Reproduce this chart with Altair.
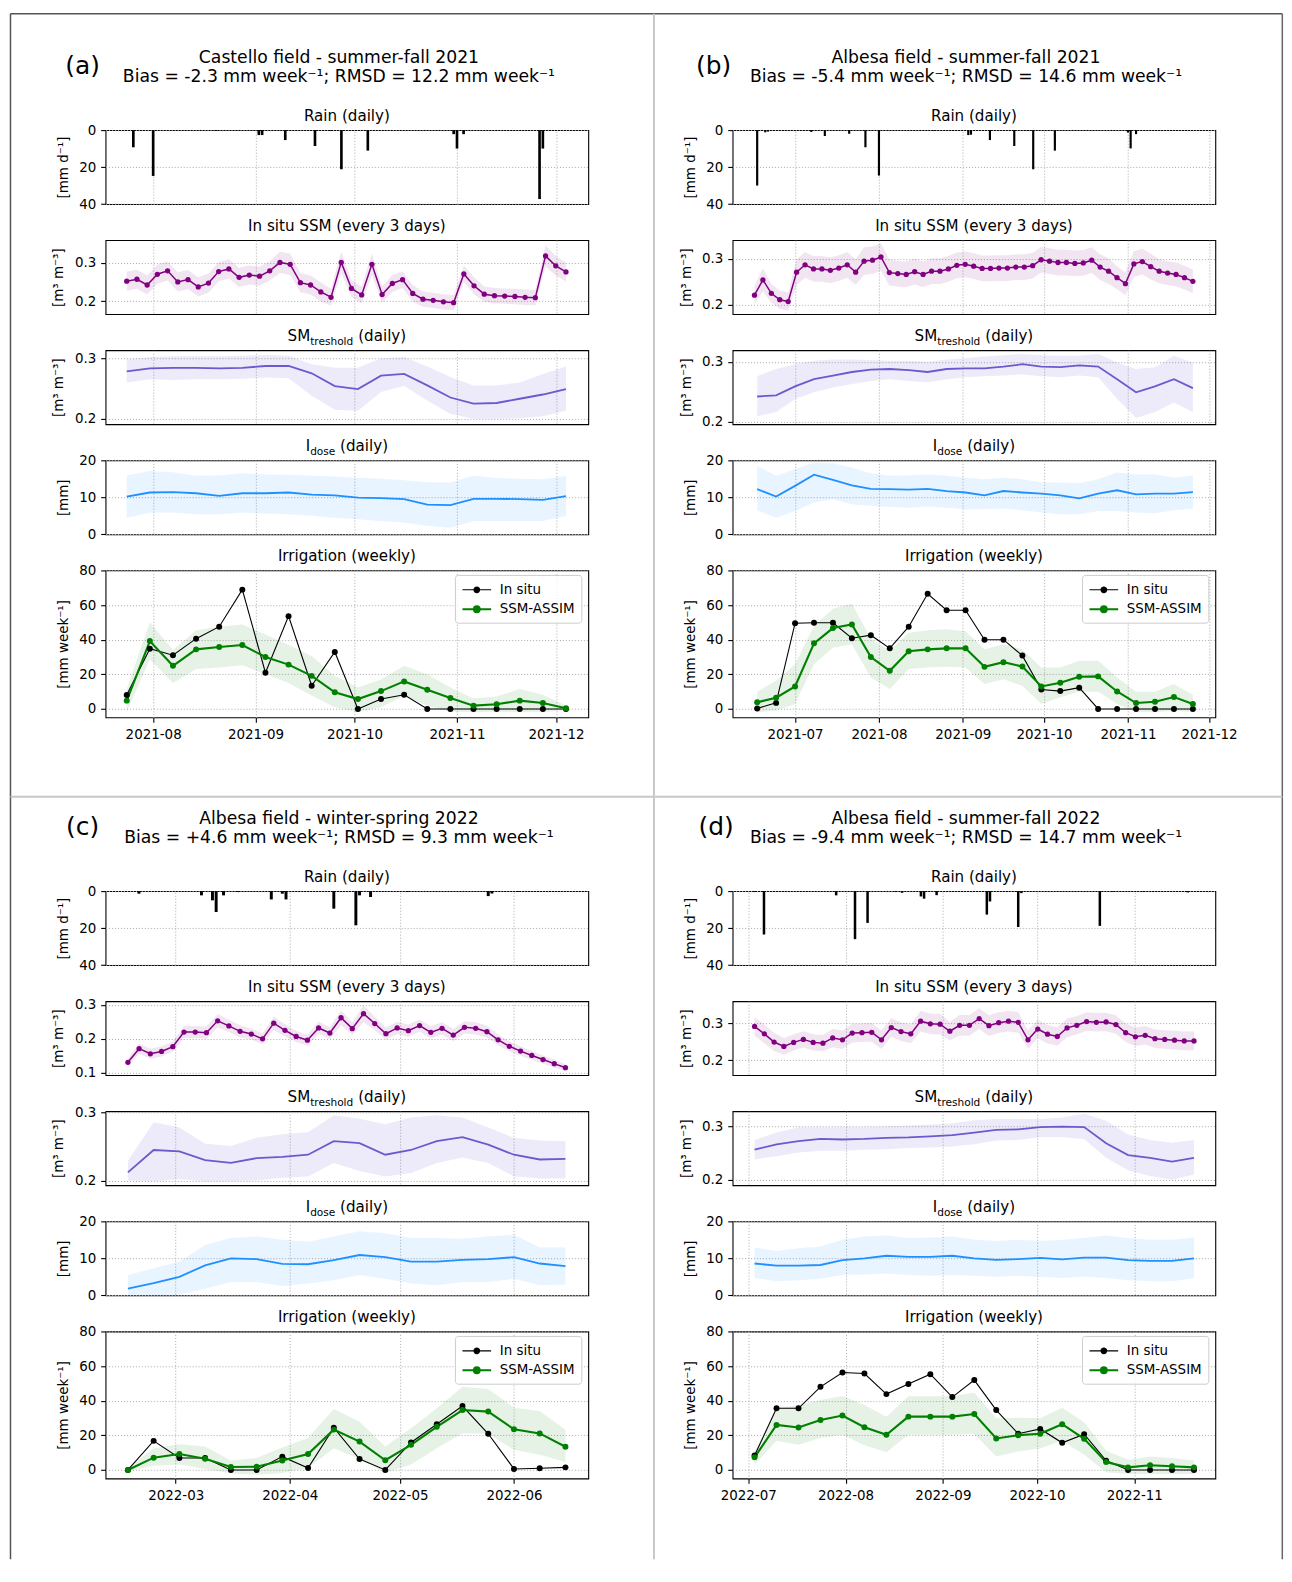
import altair as alt
import pandas as pd

FONT = "DejaVu Sans"
W = 485
H = 74.3
H_IRR = 147.7
VGAP = 35.6
HGAP = 145
ROWGAP = 174.2
SPACER_H = ROWGAP - 2 * VGAP

PURPLE = "#800080"
SLATE = "#6a5acd"
DODGER = "#1e90ff"
GREEN = "#008000"

# ---------------- Panel (a) ----------------
A_TITLE = "Castello field - summer-fall 2021"
A_STATS = "Bias = -2.3 mm week\u207b\u00b9; RMSD = 12.2 mm week\u207b\u00b9"
A_XDOM = ["2021-07-17 14:00", "2021-12-10 18:00"]
A_MONTHS = ["2021-08-01", "2021-09-01", "2021-10-01", "2021-11-01", "2021-12-01"]
A_RAIN_DATES = ["2021-07-26", "2021-08-01", "2021-08-20", "2021-09-02", "2021-09-03", "2021-09-10",
                "2021-09-19", "2021-09-24", "2021-09-27", "2021-10-05", "2021-10-31", "2021-11-01",
                "2021-11-03", "2021-11-26", "2021-11-27"]
A_RAIN_MM = [9.3, 24.8, 0.5, 2.7, 2.7, 5.4, 8.6, 0.5, 21.2, 11.1, 2.2, 10.0, 2.2, 37.3, 10.0]
A_SSM_START, A_SSM_END = "2021-07-24", "2021-12-04"
A_SSM = [0.252, 0.257, 0.242, 0.270, 0.279, 0.250, 0.256, 0.237, 0.247, 0.277, 0.284, 0.262, 0.268,
         0.265, 0.279, 0.301, 0.296, 0.248, 0.242, 0.224, 0.210, 0.301, 0.233, 0.216, 0.296, 0.217,
         0.246, 0.256, 0.220, 0.205, 0.202, 0.198, 0.196, 0.271, 0.240, 0.218, 0.214, 0.213, 0.212,
         0.210, 0.209, 0.318, 0.292, 0.276]
A_SSM_SPREAD = [0.025, 0.025, 0.025, 0.025, 0.025, 0.025, 0.025, 0.025, 0.025, 0.025, 0.025, 0.025,
                0.025, 0.025, 0.025, 0.028, 0.028, 0.025, 0.025, 0.025, 0.022, 0.028, 0.022, 0.022,
                0.028, 0.022, 0.022, 0.022, 0.022, 0.020, 0.020, 0.020, 0.020, 0.022, 0.022, 0.020,
                0.020, 0.020, 0.020, 0.020, 0.020, 0.028, 0.025, 0.025]
A_WEEK_START = "2021-07-24"
A_SMT = [0.278, 0.283, 0.284, 0.284, 0.283, 0.284, 0.287, 0.287, 0.275, 0.254, 0.249, 0.271, 0.274,
         0.255, 0.235, 0.225, 0.226, 0.233, 0.240, 0.249]
A_SMT_HI = [0.298, 0.302, 0.303, 0.303, 0.303, 0.304, 0.305, 0.304, 0.290, 0.284, 0.284, 0.300, 0.302,
            0.286, 0.269, 0.255, 0.255, 0.260, 0.274, 0.286]
A_SMT_LO = [0.260, 0.265, 0.264, 0.265, 0.265, 0.266, 0.268, 0.267, 0.238, 0.215, 0.213, 0.244, 0.254,
            0.230, 0.208, 0.200, 0.200, 0.201, 0.204, 0.213]
A_IDOSE = [10.2, 11.3, 11.4, 11.1, 10.4, 11.1, 11.1, 11.3, 10.7, 10.5, 9.9, 9.8, 9.5, 8.0, 7.9, 9.6,
           9.6, 9.5, 9.3, 10.3]
A_IDOSE_HI = [15.9, 17.1, 16.8, 15.8, 15.9, 16.5, 16.2, 16.1, 15.8, 15.6, 15.3, 15.0, 14.6, 14.1, 14.0,
              15.8, 15.2, 15.0, 14.9, 15.8]
A_IDOSE_LO = [4.5, 5.9, 5.9, 5.4, 5.4, 5.9, 5.6, 5.4, 5.0, 4.5, 4.1, 3.6, 3.2, 2.3, 1.8, 3.6, 3.6, 3.6,
              3.6, 5.0]
A_IRR_INSITU = [8.0, 34.8, 31.0, 40.6, 47.5, 68.9, 20.9, 53.6, 13.4, 32.9, 0.0, 5.7, 8.2, 0.0, 0.0,
                0.0, 0.0, 0.0, 0.0, 0.0]
A_IRR_ASSIM = [4.8, 39.2, 24.9, 34.4, 35.8, 36.9, 30.0, 25.6, 19.1, 9.6, 5.7, 10.3, 15.9, 11.1, 6.3,
               1.9, 2.7, 4.8, 3.4, 0.4]
A_IRR_HI = [11.5, 50.0, 34.0, 45.5, 47.5, 48.8, 43.0, 37.0, 30.6, 19.0, 12.4, 17.0, 25.0, 20.0, 12.4,
            6.0, 7.2, 11.5, 8.2, 1.9]
A_IRR_LO = [-1.9, 28.7, 15.0, 23.0, 24.0, 25.3, 20.0, 15.0, 7.7, 1.0, -1.9, 1.0, 7.7, 1.9, -1.5, -1.9,
            -1.9, -1.9, -1.9, -0.6]
A_SSM_YDOM = [0.166, 0.359]
A_SSM_TICKS = [0.2, 0.3]
A_SMT_YDOM = [0.191, 0.313]

# ---------------- Panel (b) ----------------
B_TITLE = "Albesa field - summer-fall 2021"
B_STATS = "Bias = -5.4 mm week\u207b\u00b9; RMSD = 14.6 mm week\u207b\u00b9"
B_XDOM = ["2021-06-07 22:00", "2021-12-03 07:00"]
B_MONTHS = ["2021-07-01", "2021-08-01", "2021-09-01", "2021-10-01", "2021-11-01", "2021-12-01"]
B_RAIN_DATES = ["2021-06-17", "2021-06-20", "2021-06-21", "2021-07-07", "2021-07-12", "2021-07-21",
                "2021-07-27", "2021-08-01", "2021-08-21", "2021-09-03", "2021-09-04", "2021-09-11",
                "2021-09-20", "2021-09-25", "2021-09-27", "2021-10-05", "2021-11-01", "2021-11-02",
                "2021-11-04"]
B_RAIN_MM = [30.0, 1.2, 0.8, 1.0, 3.2, 2.0, 9.3, 24.6, 0.4, 2.7, 2.5, 5.4, 8.6, 0.5, 21.2, 11.1, 1.3,
             9.9, 2.2]
B_SSM_START, B_SSM_END = "2021-06-16", "2021-11-25"
B_SSM = [0.221, 0.254, 0.225, 0.211, 0.207, 0.271, 0.287, 0.278, 0.278, 0.275, 0.280, 0.287, 0.271,
         0.295, 0.297, 0.304, 0.270, 0.268, 0.266, 0.272, 0.266, 0.273, 0.273, 0.278, 0.286, 0.288,
         0.284, 0.279, 0.279, 0.280, 0.280, 0.282, 0.282, 0.285, 0.298, 0.295, 0.292, 0.292, 0.290,
         0.291, 0.297, 0.282, 0.273, 0.259, 0.246, 0.289, 0.294, 0.283, 0.273, 0.269, 0.266, 0.259,
         0.251]
B_SSM_SPREAD = [0.02, 0.025, 0.02, 0.02, 0.02, 0.028, 0.028, 0.028, 0.028, 0.028, 0.028, 0.028, 0.028,
                0.03, 0.03, 0.03, 0.028, 0.028, 0.028, 0.028, 0.028, 0.028, 0.028, 0.028, 0.028, 0.028,
                0.028, 0.028, 0.028, 0.028, 0.028, 0.028, 0.028, 0.028, 0.028, 0.028, 0.028, 0.028,
                0.028, 0.028, 0.028, 0.028, 0.028, 0.025, 0.025, 0.028, 0.028, 0.028, 0.026, 0.026,
                0.026, 0.026, 0.026]
B_WEEK_START = "2021-06-17"
B_SMT = [0.242, 0.244, 0.259, 0.271, 0.277, 0.283, 0.287, 0.288, 0.286, 0.283, 0.288, 0.289, 0.289,
         0.292, 0.296, 0.292, 0.291, 0.294, 0.292, 0.271, 0.249, 0.259, 0.271, 0.256]
B_SMT_HI = [0.276, 0.288, 0.296, 0.302, 0.304, 0.304, 0.303, 0.302, 0.302, 0.300, 0.304, 0.306, 0.309,
            0.311, 0.313, 0.311, 0.310, 0.310, 0.313, 0.299, 0.288, 0.291, 0.310, 0.299]
B_SMT_LO = [0.209, 0.216, 0.238, 0.249, 0.257, 0.263, 0.268, 0.271, 0.268, 0.266, 0.271, 0.274, 0.276,
            0.277, 0.279, 0.276, 0.274, 0.277, 0.274, 0.238, 0.206, 0.216, 0.232, 0.216]
B_IDOSE = [12.2, 10.2, 13.1, 16.1, 14.7, 13.2, 12.3, 12.2, 12.1, 12.3, 11.7, 11.3, 10.5, 11.7, 11.3,
           11.0, 10.5, 9.7, 11.0, 11.9, 10.8, 11.0, 11.0, 11.4]
B_IDOSE_HI = [18.5, 15.8, 17.6, 19.4, 19.2, 18.0, 16.5, 15.8, 15.9, 16.2, 15.8, 15.3, 14.9, 15.3, 14.9,
              14.0, 14.0, 13.8, 14.9, 16.7, 16.2, 16.2, 15.3, 15.9]
B_IDOSE_LO = [6.5, 4.5, 6.3, 8.6, 9.5, 8.1, 7.7, 7.4, 7.2, 7.5, 7.2, 6.8, 6.8, 7.0, 6.5, 5.9, 5.4, 5.4,
              6.3, 6.3, 5.9, 5.7, 6.5, 6.9]
B_IRR_INSITU = [0.3, 3.5, 49.5, 49.8, 49.8, 40.8, 42.6, 35.0, 47.5, 66.5, 57.0, 57.0, 40.0, 40.0, 30.8,
                11.2, 10.3, 12.3, 0.0, 0.0, 0.0, 0.0, 0.0, 0.0]
B_IRR_ASSIM = [3.8, 6.5, 13.0, 37.9, 46.7, 48.8, 30.0, 22.0, 33.3, 34.4, 35.0, 35.0, 24.3, 27.0, 24.5,
               13.0, 15.1, 18.6, 18.8, 10.1, 3.4, 4.2, 6.9, 2.9]
B_IRR_HI = [10.0, 16.3, 25.8, 48.0, 57.8, 60.9, 40.6, 33.5, 44.0, 45.5, 46.0, 44.8, 34.4, 37.3, 34.4,
            23.9, 23.9, 27.8, 27.8, 18.2, 10.0, 10.0, 14.4, 8.0]
B_IRR_LO = [-1.9, -1.0, 2.9, 25.8, 35.4, 37.3, 18.2, 11.5, 23.0, 23.9, 24.3, 23.9, 14.4, 17.2, 13.4, 2.9,
            6.7, 10.0, 10.0, 2.9, -1.9, -1.9, -1.0, -1.9]
B_SSM_YDOM = [0.1797, 0.3406]
B_SSM_TICKS = [0.2, 0.3]
B_SMT_YDOM = [0.1956, 0.3194]

# ---------------- Panel (c) ----------------
C_TITLE = "Albesa field - winter-spring 2022"
C_STATS = "Bias = +4.6 mm week\u207b\u00b9; RMSD = 9.3 mm week\u207b\u00b9"
C_XDOM = ["2022-02-09 22:00", "2022-06-21 05:00"]
C_MONTHS = ["2022-03-01", "2022-04-01", "2022-05-01", "2022-06-01"]
C_RAIN_DATES = ["2022-02-19", "2022-03-08", "2022-03-11", "2022-03-12", "2022-03-14", "2022-03-18",
                "2022-03-27", "2022-03-30", "2022-03-31", "2022-04-13", "2022-04-19", "2022-04-20",
                "2022-04-23", "2022-05-03", "2022-05-25", "2022-05-26", "2022-06-02"]
C_RAIN_MM = [1.4, 2.3, 5.0, 11.3, 2.3, 0.5, 4.5, 1.4, 4.5, 9.5, 18.5, 2.3, 3.2, 0.5, 2.7, 1.3, 0.4]
C_SSM_START, C_SSM_END = "2022-02-16", "2022-06-15"
C_SSM = [0.131, 0.171, 0.156, 0.163, 0.177, 0.220, 0.220, 0.218, 0.253, 0.238, 0.222, 0.214, 0.200,
         0.246, 0.225, 0.207, 0.196, 0.232, 0.217, 0.262, 0.230, 0.274, 0.245, 0.215, 0.232, 0.224,
         0.239, 0.219, 0.231, 0.211, 0.234, 0.231, 0.221, 0.197, 0.178, 0.164, 0.151, 0.139, 0.127,
         0.115]
C_SSM_SPREAD = [0.012, 0.015, 0.015, 0.015, 0.015, 0.018, 0.018, 0.018, 0.02, 0.018, 0.018, 0.016,
                0.016, 0.02, 0.018, 0.016, 0.016, 0.018, 0.018, 0.022, 0.018, 0.025, 0.02, 0.018,
                0.018, 0.018, 0.018, 0.018, 0.018, 0.018, 0.018, 0.018, 0.018, 0.016, 0.015, 0.014,
                0.013, 0.012, 0.012, 0.01]
C_WEEK_START = "2022-02-16"
C_SMT = [0.212, 0.245, 0.243, 0.230, 0.226, 0.233, 0.235, 0.238, 0.258, 0.255, 0.238, 0.245, 0.258,
         0.264, 0.253, 0.238, 0.231, 0.232]
C_SMT_HI = [0.229, 0.286, 0.278, 0.254, 0.251, 0.263, 0.268, 0.271, 0.296, 0.291, 0.283, 0.293, 0.296,
            0.293, 0.278, 0.263, 0.259, 0.258]
C_SMT_LO = [0.200, 0.199, 0.202, 0.199, 0.199, 0.200, 0.204, 0.206, 0.226, 0.214, 0.206, 0.211, 0.226,
            0.234, 0.226, 0.206, 0.203, 0.203]
C_IDOSE = [1.8, 3.3, 5.0, 8.1, 10.0, 9.8, 8.5, 8.4, 9.5, 10.9, 10.3, 9.1, 9.1, 9.6, 9.8, 10.3, 8.6, 7.9]
C_IDOSE_HI = [5.5, 7.3, 9.1, 13.6, 15.5, 15.9, 15.0, 14.5, 15.9, 17.3, 16.8, 15.5, 15.5, 15.3, 15.9,
              16.4, 12.9, 12.9]
C_IDOSE_LO = [0.0, 0.0, 0.2, 1.8, 3.6, 3.6, 2.5, 3.2, 4.1, 5.5, 4.5, 3.2, 2.7, 3.6, 3.6, 4.5, 2.7, 2.9]
C_IRR_INSITU = [0.0, 16.8, 6.9, 6.9, 0.0, 0.0, 7.7, 1.1, 24.4, 6.3, 0.0, 15.9, 26.4, 36.9, 20.9, 0.6,
                1.0, 1.5]
C_IRR_ASSIM = [0.0, 7.1, 9.2, 6.5, 1.7, 1.9, 5.5, 9.2, 23.3, 16.4, 5.6, 14.5, 24.9, 34.6, 33.7, 23.5,
               21.1, 13.4]
C_IRR_HI = [1.1, 12.6, 14.9, 13.6, 5.4, 6.9, 13.0, 18.4, 35.2, 27.9, 13.6, 24.1, 35.6, 48.0, 46.7, 36.0,
            34.1, 23.2]
C_IRR_LO = [-0.8, 2.5, 3.1, 0.6, -2.1, -2.7, -1.7, 1.1, 12.6, 6.3, -1.7, 3.1, 12.6, 21.2, 20.9, 11.7,
            8.8, 4.6]
C_SSM_YDOM = [0.0932, 0.3107]
C_SSM_TICKS = [0.1, 0.2, 0.3]
C_SMT_YDOM = [0.1931, 0.302]

# ---------------- Panel (d) ----------------
D_TITLE = "Albesa field - summer-fall 2022"
D_STATS = "Bias = -9.4 mm week\u207b\u00b9; RMSD = 14.7 mm week\u207b\u00b9"
D_XDOM = ["2022-06-26 00:00", "2022-11-26 19:00"]
D_MONTHS = ["2022-07-01", "2022-08-01", "2022-09-01", "2022-10-01", "2022-11-01"]
D_RAIN_DATES = ["2022-07-03", "2022-07-06", "2022-07-29", "2022-08-04", "2022-08-08", "2022-08-17",
                "2022-08-19", "2022-08-25", "2022-08-26", "2022-08-30", "2022-09-15", "2022-09-16",
                "2022-09-25", "2022-09-26", "2022-10-21", "2022-10-25", "2022-11-04", "2022-11-18"]
D_RAIN_MM = [0.5, 23.5, 2.3, 26.0, 17.2, 0.5, 0.9, 2.9, 4.1, 2.2, 12.7, 5.6, 19.4, 1.1, 18.8, 0.4, 0.5,
             0.7]
D_SSM_START, D_SSM_END = "2022-07-03", "2022-11-20"
D_SSM = [0.291, 0.271, 0.249, 0.237, 0.248, 0.256, 0.248, 0.246, 0.260, 0.255, 0.273, 0.274, 0.275,
         0.255, 0.288, 0.277, 0.271, 0.305, 0.298, 0.297, 0.278, 0.294, 0.294, 0.312, 0.293, 0.301,
         0.305, 0.302, 0.255, 0.284, 0.270, 0.264, 0.287, 0.294, 0.304, 0.302, 0.303, 0.296, 0.274,
         0.263, 0.267, 0.258, 0.256, 0.254, 0.252, 0.252]
D_SSM_SPREAD = [0.025, 0.025, 0.025, 0.022, 0.022, 0.022, 0.022, 0.022, 0.025, 0.025,
                0.025, 0.025, 0.025, 0.025, 0.025, 0.025, 0.025, 0.028, 0.028, 0.028, 0.025, 0.028,
                0.028, 0.028, 0.028, 0.028, 0.028, 0.028, 0.025, 0.025, 0.025, 0.025, 0.025, 0.025,
                0.025, 0.025, 0.025, 0.025, 0.025, 0.025, 0.025, 0.025, 0.025, 0.025, 0.025, 0.025]
D_WEEK_START = "2022-07-03"
D_SMT = [0.256, 0.266, 0.272, 0.276, 0.275, 0.276, 0.278, 0.279, 0.281, 0.283, 0.288, 0.293, 0.294,
         0.298, 0.299, 0.298, 0.268, 0.246, 0.241, 0.234, 0.241]
D_SMT_HI = [0.274, 0.288, 0.298, 0.298, 0.298, 0.298, 0.299, 0.301, 0.303, 0.305, 0.311, 0.313, 0.313,
            0.313, 0.316, 0.323, 0.310, 0.284, 0.274, 0.269, 0.274]
D_SMT_LO = [0.238, 0.244, 0.251, 0.254, 0.254, 0.256, 0.257, 0.259, 0.260, 0.262, 0.266, 0.273, 0.274,
            0.279, 0.279, 0.276, 0.241, 0.218, 0.207, 0.200, 0.210]
D_IDOSE = [8.6, 8.0, 8.0, 8.2, 9.5, 10.0, 10.7, 10.4, 10.4, 10.7, 10.0, 9.6, 9.8, 10.1, 9.7, 10.2, 10.2,
           9.5, 9.3, 9.3, 10.0]
D_IDOSE_HI = [12.9, 12.0, 12.7, 13.2, 15.0, 15.9, 16.2, 15.5, 15.6, 15.9, 15.0, 14.7, 15.0, 14.7, 15.0,
              15.5, 16.2, 15.5, 15.0, 15.0, 15.6]
D_IDOSE_LO = [4.7, 3.8, 4.1, 4.5, 5.5, 5.6, 5.9, 5.5, 5.3, 5.5, 5.3, 5.0, 5.3, 5.0, 4.7, 5.1, 4.7, 4.1,
              3.8, 3.8, 4.7]
D_IRR_INSITU = [8.4, 35.6, 35.6, 48.0, 56.3, 55.7, 43.8, 49.6, 55.3, 42.1, 51.9, 34.6, 20.9, 23.7, 15.7,
                20.7, 5.4, 0.0, 0.0, 0.0, 0.0]
D_IRR_ASSIM = [7.3, 26.0, 24.5, 28.9, 31.4, 24.7, 20.3, 30.8, 30.8, 30.8, 32.3, 18.2, 20.1, 20.9, 26.4,
               18.0, 4.6, 1.5, 2.7, 2.1, 1.5]
D_IRR_HI = [10.7, 35.6, 37.5, 40.4, 42.7, 37.5, 30.8, 42.5, 42.5, 42.5, 44.8, 29.9, 30.2, 29.9, 36.0,
            27.6, 11.1, 5.9, 7.8, 6.9, 5.4]
D_IRR_LO = [3.1, 16.8, 14.5, 18.4, 20.3, 14.2, 10.3, 20.3, 20.3, 20.3, 20.7, 7.8, 10.7, 12.6, 16.8, 8.8,
            -1.3, -2.3, -2.3, -2.3, -2.3]
D_SSM_YDOM = [0.1598, 0.3589]
D_SSM_TICKS = [0.2, 0.3]
D_SMT_YDOM = [0.19, 0.3275]

RAIN_YDOM = [0, 40]
IDOSE_YDOM = [0, 20]
IRR_YDOM = [-4.9, 80]
SERIES = ["In situ", "SSM-ASSIM"]

LEG_PATH = ("M-1.8,0L1.8,0"
            "M-0.36,0A0.36,0.36,0,1,1,0.36,0A0.36,0.36,0,1,1,-0.36,0"
            "M-0.2,0A0.2,0.2,0,1,1,0.2,0A0.2,0.2,0,1,1,-0.2,0"
            "M-0.06,0A0.06,0.06,0,1,1,0.06,0A0.06,0.06,0,1,1,-0.06,0")


def dt(s):
    t = pd.Timestamp(s)
    return alt.DateTime(year=t.year, month=t.month, date=t.day, hours=t.hour, minutes=t.minute)


def one():
    return pd.DataFrame({"k": [0]})


def xenc(field, P, labels=False):
    ax = alt.Axis(values=[dt(m) for m in P["months"]], grid=True, title=None, labels=labels,
                  ticks=labels, domain=False, format="%Y-%m", labelOverlap=False)
    return alt.X(f"{field}:T", scale=alt.Scale(domain=[dt(P["xdom"][0]), dt(P["xdom"][1])], nice=False),
                 axis=ax)


def yenc(field, dom, values, fmt, title, reverse=False):
    return alt.Y(f"{field}:Q",
                 scale=alt.Scale(domain=dom, nice=False, zero=False, reverse=reverse),
                 axis=alt.Axis(values=values, format=fmt, title=title, grid=True, titlePadding=8.5))


def txt(text, x, y, size, align="center", baseline="alphabetic"):
    return alt.Chart(one()).mark_text(text=text, font=FONT, fontSize=size, align=align,
                                      baseline=baseline, color="black").encode(
        x=alt.value(x), y=alt.value(y))


def hrule(x1, x2, y, color, sw):
    return alt.Chart(one()).mark_rule(color=color, strokeWidth=sw).encode(
        x=alt.value(x1), x2=alt.value(x2), y=alt.value(y))


def vrule(x, y1, y2, color, sw):
    return alt.Chart(one()).mark_rule(color=color, strokeWidth=sw).encode(
        x=alt.value(x), y=alt.value(y1), y2=alt.value(y2))


def weeks(P, n):
    return pd.date_range(P["week_start"], periods=n, freq="7D")


def rain_chart(P, borders=False):
    df = pd.DataFrame({"date": pd.to_datetime(P["rain_dates"]), "mm": P["rain_mm"]})
    df["d0"] = df["date"] - pd.Timedelta(hours=9.6)
    df["d1"] = df["date"] + pd.Timedelta(hours=9.6)
    bars = alt.Chart(df).mark_bar(color="black").encode(
        x=xenc("d0", P), x2="d1:T",
        y=yenc("mm", RAIN_YDOM, [0, 20, 40], "d", "[mm d\u207b\u00b9]", reverse=True),
        y2=alt.datum(0))
    layers = [bars,
              txt("Rain (daily)", W / 2, -9, 15.2),
              txt(P["title"], W / 2 - 8, -67.5, 17.3),
              txt(P["stats"], W / 2 - 8, -48, 17.3),
              txt(P["label"], P["label_dx"], -56, 25)]
    if borders:
        L, T, R, B = -95.5, -117.0, 1182.3, 1436.0
        layers += [hrule(L, R, T, "#555555", 1.5), vrule(L, T, B, "#555555", 1.5),
                   vrule(R, T, B, "#666666", 1.5),
                   vrule(551.0, T, B, "#c8c8c8", 2), hrule(L, R, 669.7, "#c8c8c8", 2)]
    return alt.layer(*layers).properties(width=W, height=H)


def ssm_chart(P):
    n = len(P["ssm"])
    df = pd.DataFrame({"date": pd.date_range(P["ssm_start"], P["ssm_end"], periods=n),
                       "v": P["ssm"], "s": P["ssm_spread"]})
    df["lo"] = df["v"] - df["s"]
    df["hi"] = df["v"] + df["s"]
    X = xenc("date", P)
    tl = "[m\u00b3 m\u207b\u00b3]"
    band = alt.Chart(df).mark_area(color=PURPLE, opacity=0.1).encode(
        x=X, y=yenc("hi", P["ssm_ydom"], P["ssm_ticks"], ".1f", tl), y2="lo:Q")
    line = alt.Chart(df).mark_line(color=PURPLE, strokeWidth=1.5).encode(
        x=X, y=yenc("v", P["ssm_ydom"], P["ssm_ticks"], ".1f", tl))
    pts = alt.Chart(df).mark_circle(color=PURPLE, size=28, opacity=1).encode(
        x=X, y=yenc("v", P["ssm_ydom"], P["ssm_ticks"], ".1f", tl))
    return alt.layer(band, line, pts, txt("In situ SSM (every 3 days)", W / 2, -9, 15.2)).properties(
        width=W, height=H)


def smt_chart(P):
    n = len(P["smt"])
    df = pd.DataFrame({"date": weeks(P, n), "v": P["smt"], "lo": P["smt_lo"], "hi": P["smt_hi"]})
    X = xenc("date", P)
    tl = "[m\u00b3 m\u207b\u00b3]"
    band = alt.Chart(df).mark_area(color=SLATE, opacity=0.12).encode(
        x=X, y=yenc("hi", P["smt_ydom"], [0.2, 0.3], ".1f", tl), y2="lo:Q")
    line = alt.Chart(df).mark_line(color=SLATE, strokeWidth=1.8).encode(
        x=X, y=yenc("v", P["smt_ydom"], [0.2, 0.3], ".1f", tl))
    x0 = W / 2 - 59.65
    t1 = txt("SM", x0, -9, 15.2, align="left")
    t2 = txt("treshold", x0 + 22.8, -5.7, 10.6, align="left")
    t3 = txt("(daily)", x0 + 22.8 + 43.4 + 4.8, -9, 15.2, align="left")
    return alt.layer(band, line, t1, t2, t3).properties(width=W, height=H)


def idose_chart(P):
    n = len(P["idose"])
    df = pd.DataFrame({"date": weeks(P, n), "v": P["idose"], "lo": P["idose_lo"], "hi": P["idose_hi"]})
    X = xenc("date", P)
    band = alt.Chart(df).mark_area(color=DODGER, opacity=0.1).encode(
        x=X, y=yenc("hi", IDOSE_YDOM, [0, 10, 20], "d", "[mm]"), y2="lo:Q")
    line = alt.Chart(df).mark_line(color=DODGER, strokeWidth=1.8).encode(
        x=X, y=yenc("v", IDOSE_YDOM, [0, 10, 20], "d", "[mm]"))
    x0 = W / 2 - 41.45
    t1 = txt("I", x0, -9, 15.2, align="left")
    t2 = txt("dose", x0 + 4.5, -5.7, 10.6, align="left")
    t3 = txt("(daily)", x0 + 4.5 + 25.3 + 4.8, -9, 15.2, align="left")
    return alt.layer(band, line, t1, t2, t3).properties(width=W, height=H)


def irr_chart(P):
    n = len(P["irr_insitu"])
    dates = weeks(P, n)
    band_df = pd.DataFrame({"date": dates, "lo": P["irr_lo"], "hi": P["irr_hi"]})
    long = pd.DataFrame({"date": list(dates) * 2,
                         "value": list(P["irr_insitu"]) + list(P["irr_assim"]),
                         "series": [SERIES[0]] * n + [SERIES[1]] * n})
    X = xenc("date", P, labels=True)
    tl = "[mm week\u207b\u00b9]"
    ticks = [0, 20, 40, 60, 80]
    cs = alt.Scale(domain=SERIES, range=["black", GREEN])
    leg = alt.Legend(title=None, orient="none", legendX=W - 134, legendY=4.5, symbolType=LEG_PATH,
                     symbolSize=256, symbolStrokeWidth=1.5, symbolOffset=6.5, labelOffset=13.5,
                     padding=6, rowPadding=3, strokeColor="#cccccc",
                     fillColor="rgba(255,255,255,0.8)", cornerRadius=3, labelFont=FONT,
                     labelFontSize=13.5, labelColor="black", labelLimit=300)
    band = alt.Chart(band_df).mark_area(color=GREEN, opacity=0.1).encode(
        x=X, y=yenc("hi", IRR_YDOM, ticks, "d", tl), y2="lo:Q")
    lines = alt.Chart(long).mark_line().encode(
        x=X, y=yenc("value", IRR_YDOM, ticks, "d", tl),
        color=alt.Color("series:N", scale=cs, legend=leg),
        strokeWidth=alt.StrokeWidth("series:N", scale=alt.Scale(domain=SERIES, range=[1.1, 2.1]),
                                    legend=None))
    pts = alt.Chart(long).mark_circle(size=36, opacity=1).encode(
        x=X, y=yenc("value", IRR_YDOM, ticks, "d", tl),
        color=alt.Color("series:N", scale=cs, legend=None))
    return alt.layer(band, lines, pts, txt("Irrigation (weekly)", W / 2, -9, 15.2)).properties(
        width=W, height=H_IRR)


def spacer():
    return alt.Chart(one()).mark_point(opacity=0).encode(
        x=alt.value(0), y=alt.value(0)).properties(
        width=W, height=SPACER_H, view=alt.ViewConfig(stroke="transparent"))


def panel(prefix, label, label_dx):
    g = globals()
    return dict(label=label, label_dx=label_dx, title=g[prefix + "_TITLE"], stats=g[prefix + "_STATS"],
                xdom=g[prefix + "_XDOM"], months=g[prefix + "_MONTHS"],
                rain_dates=g[prefix + "_RAIN_DATES"], rain_mm=g[prefix + "_RAIN_MM"],
                ssm_start=g[prefix + "_SSM_START"], ssm_end=g[prefix + "_SSM_END"],
                ssm=g[prefix + "_SSM"], ssm_spread=g[prefix + "_SSM_SPREAD"],
                week_start=g[prefix + "_WEEK_START"],
                smt=g[prefix + "_SMT"], smt_lo=g[prefix + "_SMT_LO"], smt_hi=g[prefix + "_SMT_HI"],
                idose=g[prefix + "_IDOSE"], idose_lo=g[prefix + "_IDOSE_LO"],
                idose_hi=g[prefix + "_IDOSE_HI"],
                irr_insitu=g[prefix + "_IRR_INSITU"], irr_assim=g[prefix + "_IRR_ASSIM"],
                irr_lo=g[prefix + "_IRR_LO"], irr_hi=g[prefix + "_IRR_HI"],
                ssm_ydom=g[prefix + "_SSM_YDOM"], ssm_ticks=g[prefix + "_SSM_TICKS"],
                smt_ydom=g[prefix + "_SMT_YDOM"])


PA = panel("A", "(a)", -23)
PB = panel("B", "(b)", -19)
PC = panel("C", "(c)", -23)
PD = panel("D", "(d)", -16.5)

cells = []
for left, right, top in [(PA, PB, True), (PC, PD, False)]:
    cells += [rain_chart(left, borders=top), rain_chart(right)]
    cells += [ssm_chart(left), ssm_chart(right)]
    cells += [smt_chart(left), smt_chart(right)]
    cells += [idose_chart(left), idose_chart(right)]
    cells += [irr_chart(left), irr_chart(right)]
    if top:
        cells += [spacer(), spacer()]

chart = alt.concat(*cells, columns=2, spacing={"row": VGAP, "column": HGAP}, bounds="flush")
chart = chart.resolve_scale(color="independent", strokeWidth="independent").resolve_legend(
    color="independent", strokeWidth="independent")

chart = chart.properties(padding=0, background="white").configure(font=FONT).configure_view(
    stroke="black", strokeWidth=1.1
).configure_axis(
    labelFont=FONT, labelFontSize=13.5, labelColor="black", titleFont=FONT, titleFontSize=13.5,
    titleFontWeight="normal", titleColor="black", tickColor="black", tickWidth=1.1, tickSize=4.9,
    labelPadding=4.9, gridColor="#b0b0b0", gridDash=[1.1, 1.9], gridWidth=1.0, domain=False
).configure_legend(labelFont=FONT, labelFontSize=13.5, labelColor="black")

chart.save("out.html", embed_options={"renderer": "svg", "actions": False})
